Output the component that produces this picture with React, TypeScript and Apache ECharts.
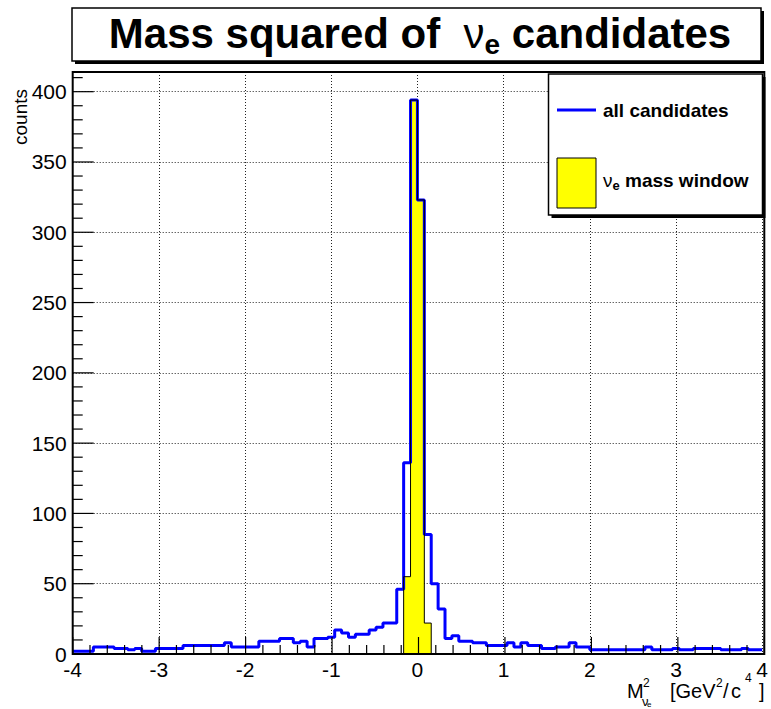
import React, { useEffect, useRef } from 'react';
import * as echarts from 'echarts';

// Histogram binning
const BIN_MIN = -4;
const BIN_WIDTH = 0.08;

// All candidates: counts per bin, 100 bins from -4 to 4
const allCandidates = [
  2, 2, 2, 5, 5, 5, 4, 4, 3, 4,
  2, 2, 4, 4, 4, 4, 6, 6, 6, 6,
  6, 6, 8, 5, 5, 5, 5, 9, 9, 9,
  11, 11, 8, 9, 5, 11, 11, 12, 17, 15,
  12, 14, 14, 17, 19, 22, 22, 46, 136, 394,
  323, 85, 50, 32, 11, 13, 9, 9, 8, 8,
  6, 6, 6, 8, 5, 8, 6, 6, 4, 4,
  5, 5, 8, 5, 5, 3, 3, 3, 3, 3,
  3, 3, 3, 5, 3, 3, 3, 4, 3, 3,
  4, 4, 4, 4, 3, 3, 3, 4, 3, 3,
];

// nu_e mass window: first bin index and counts
const windowFirstBin = 48;
const windowCounts = [55, 394, 323, 22];

// Axis ranges / ticks
const xMin = -4;
const xMax = 4;
const xMajor = 1;
const xMinorStep = 0.2;
const yMin = 0;
const yMax = 414;
const yMajor = 50;
const yMinorStep = 10;

const FONT = '"Liberation Sans", Arial, Helvetica, sans-serif';

// Plot frame (pixels)
const G_LEFT = 72.7;
const G_RIGHT = 6.7;
const G_TOP = 72;
const G_BOTTOM = 55;
const W = 771;
const H = 709;

const r4 = (v: number) => Math.round(v * 10000) / 10000;

export default function App() {
  const ref = useRef<HTMLDivElement>(null);

  useEffect(() => {
    if (!ref.current) return;
    const chart = echarts.init(ref.current, undefined, { renderer: 'svg' });

    const blueData: number[][] = [];
    for (let k = 0; k <= allCandidates.length; k++) {
      blueData.push([r4(BIN_MIN + k * BIN_WIDTH), allCandidates[Math.min(k, allCandidates.length - 1)]]);
    }
    const x0 = BIN_MIN + windowFirstBin * BIN_WIDTH;
    const yellowData: number[][] = [[r4(x0), 0]];
    windowCounts.forEach((c, i) => yellowData.push([r4(x0 + i * BIN_WIDTH), c]));
    const xEnd = r4(x0 + windowCounts.length * BIN_WIDTH);
    yellowData.push([xEnd, windowCounts[windowCounts.length - 1]]);
    yellowData.push([xEnd, 0]);

    const gridLine = { show: true, lineStyle: { color: '#222', width: 1, type: [1, 2] as any } };
    const axLine = { show: false, onZero: false };

    const txt = (x: number, y: number, text: string, fontSize: number, extra: any = {}) => ({
      type: 'text', x, y, z: 12, silent: true,
      style: { text, fontSize, fontFamily: FONT, fill: '#000', verticalAlign: 'middle', ...extra },
    });

    // Axis tick decorations: linear map of the same axis ranges onto the plot frame
    const plotW = W - G_LEFT - G_RIGHT;
    const plotH = H - G_TOP - G_BOTTOM;
    const yBase = H - G_BOTTOM;
    const tickGraphics: any[] = [];
    for (let k = 0; r4(xMin + k * xMinorStep) <= xMax; k++) {
      const v = r4(xMin + k * xMinorStep);
      const major = Math.abs(v / xMajor - Math.round(v / xMajor)) < 1e-6;
      const px = G_LEFT + ((v - xMin) / (xMax - xMin)) * plotW;
      const len = major ? 17 : 9;
      tickGraphics.push({
        type: 'polyline', z: 20, silent: true,
        shape: { points: [[px, yBase], [px, yBase - len]] },
        style: { stroke: '#000', lineWidth: 1.2, fill: 'none' },
      });
    }
    for (let k = 0; yMin + k * yMinorStep <= yMax; k++) {
      const v = yMin + k * yMinorStep;
      const major = v % yMajor === 0;
      const py = yBase - ((v - yMin) / (yMax - yMin)) * plotH;
      const len = major ? 21 : 10;
      tickGraphics.push({
        type: 'polyline', z: 20, silent: true,
        shape: { points: [[G_LEFT, py], [G_LEFT + len, py]] },
        style: { stroke: '#000', lineWidth: 1.2, fill: 'none' },
      });
    }

    const graphics: any[] = [
      // Plot frame
      {
        type: 'rect', z: 9, silent: true,
        shape: { x: G_LEFT, y: G_TOP, width: plotW, height: plotH },
        style: { fill: 'none', stroke: '#000', lineWidth: 2 },
      },
      // Title box with shadow
      { type: 'rect', shape: { x: 75, y: 11, width: 689, height: 53 }, style: { fill: '#000' }, silent: true, z: 10 },
      { type: 'rect', shape: { x: 72, y: 8, width: 689, height: 53 }, style: { fill: '#fff', stroke: '#000', lineWidth: 1.5 }, silent: true, z: 11 },
      {
        type: 'text',
        x: 420,
        y: 33,
        z: 12,
        silent: true,
        style: {
          text: '{b|Mass squared of  }{g|ν}{s|e}{b| candidates}',
          align: 'center',
          verticalAlign: 'middle',
          fill: '#000',
          rich: {
            b: { fontSize: 42, fontWeight: 'bold', fontFamily: FONT, lineHeight: 50 },
            g: { fontSize: 42, fontWeight: 'normal', fontFamily: FONT, lineHeight: 50 },
            s: { fontSize: 28, fontWeight: 'bold', fontFamily: FONT, lineHeight: 16, verticalAlign: 'bottom' },
          },
        },
      },
      // Legend box with shadow
      { type: 'rect', shape: { x: 551.5, y: 77, width: 214, height: 141 }, style: { fill: '#000' }, silent: true, z: 10 },
      { type: 'rect', shape: { x: 548.5, y: 74, width: 214, height: 141 }, style: { fill: '#fff', stroke: '#000', lineWidth: 1.5 }, silent: true, z: 11 },
      { type: 'line', shape: { x1: 557, y1: 110, x2: 596, y2: 110 }, style: { stroke: '#0000ff', lineWidth: 3 }, silent: true, z: 12 },
      txt(603, 110, 'all candidates', 19, { fontWeight: 'bold' }),
      { type: 'rect', shape: { x: 557, y: 158, width: 39, height: 50 }, style: { fill: '#ffff00', stroke: '#000', lineWidth: 1 }, silent: true, z: 12 },
      {
        type: 'text', x: 603, y: 180, z: 12, silent: true,
        style: {
          text: '{g|ν}{s|e}{b| mass window}',
          verticalAlign: 'middle',
          fill: '#000',
          rich: {
            b: { fontSize: 19, fontWeight: 'bold', fontFamily: FONT, lineHeight: 24 },
            g: { fontSize: 19, fontWeight: 'normal', fontFamily: FONT, lineHeight: 24 },
            s: { fontSize: 13, fontWeight: 'bold', fontFamily: FONT, lineHeight: 12, verticalAlign: 'bottom' },
          },
        },
      },
      // Y axis title
      {
        type: 'text', x: 20, y: 117, rotation: Math.PI / 2, z: 12, silent: true,
        style: { text: 'counts', fontSize: 19, fontFamily: FONT, fill: '#000', align: 'center', verticalAlign: 'middle' },
      },
      // X axis title: M^2 with nu_e subscript, then [GeV^2/c^4]
      txt(627, 691, 'M', 20),
      txt(643, 683, '2', 12),
      txt(642, 701, 'ν', 13),
      txt(647, 704, 'e', 8),
      txt(670, 691, '[GeV', 20),
      txt(716, 683, '2', 12),
      txt(723, 691, '/', 20),
      txt(731, 691, 'c', 20),
      txt(745, 678, '4', 12),
      txt(759, 691, ']', 20),
      ...tickGraphics,
    ];

    chart.setOption({
      animation: false,
      backgroundColor: '#fff',
      grid: {
        left: G_LEFT,
        right: G_RIGHT,
        top: G_TOP,
        bottom: G_BOTTOM,
        show: false,
      },
      xAxis: {
        type: 'value',
        min: xMin,
        max: xMax,
        interval: xMajor,
        position: 'bottom',
        axisLine: axLine,
        axisTick: { show: false },
        axisLabel: { show: true, color: '#000', fontSize: 21, fontFamily: FONT, margin: 5 },
        splitLine: gridLine,
      },
      yAxis: {
        type: 'value',
        min: yMin,
        max: yMax,
        interval: yMajor,
        position: 'left',
        axisLine: axLine,
        axisTick: { show: false },
        axisLabel: { show: true, color: '#000', fontSize: 21, fontFamily: FONT, margin: 6, showMaxLabel: false },
        splitLine: gridLine,
      },
      series: [
        {
          name: 'all candidates',
          type: 'line',
          step: 'end',
          data: blueData,
          showSymbol: false,
          symbol: 'none',
          silent: true,
          lineStyle: { color: '#0000ff', width: 3 },
        },
        {
          name: 'mass window',
          type: 'line',
          step: 'end',
          data: yellowData,
          showSymbol: false,
          symbol: 'none',
          silent: true,
          lineStyle: { color: '#000', width: 1 },
          areaStyle: { color: '#ffff00', opacity: 1 },
        },
      ],
      graphic: graphics,
    });

    return () => {
      chart.dispose();
    };
  }, []);

  return (
    <div
      ref={ref}
      style={{ position: 'absolute', left: 0, top: 0, width: W, height: H, background: '#fff' }}
    />
  );
}
